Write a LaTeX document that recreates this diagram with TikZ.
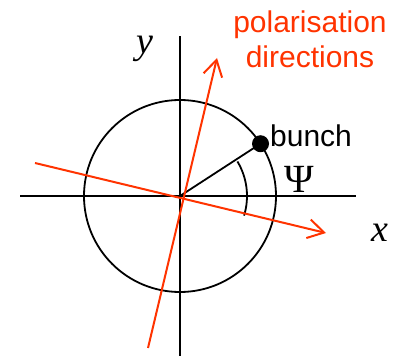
\documentclass[tikz,border=0pt]{standalone}
\usepackage{fontspec}
\setmainfont{Liberation Serif}
\newfontfamily\arialfont{Liberation Sans}
\usetikzlibrary{arrows.meta}
\definecolor{polred}{RGB}{255,51,0}
\begin{document}
\begin{tikzpicture}[x=1pt,y=1pt,
  axisline/.style={line width=2pt,black},
  thinblack/.style={line width=1.8pt,black},
  polline/.style={line width=2pt,polred,-{Straight Barb[length=16pt,width=19pt,line width=2pt]}},
  sanslabel/.style={font=\arialfont\fontsize{30}{36}\selectfont,inner sep=0pt},
  axlabel/.style={font=\fontsize{38}{44}\selectfont\itshape,inner sep=0pt},
  psilabel/.style={font=\fontsize{40}{46}\selectfont,inner sep=0pt}]
\useasboundingbox (0,0) rectangle (399,356);
\coordinate (O) at (180,160);
\coordinate (xl) at (20,160);
\coordinate (xr) at (356,160);
\coordinate (yb) at (180,0);
\coordinate (yt) at (180,320);
\coordinate (r1s) at (148,8);
\coordinate (r1e) at (217,298);
\coordinate (r2s) at (35,193);
\coordinate (r2e) at (326,123);
% axes
\draw[axisline] (xl) -- (xr);
\draw[axisline] (yb) -- (yt);
% circle
\draw[thinblack] (O) circle[radius=96pt];
% bunch
\node[circle,fill=black,inner sep=0pt,minimum size=17pt] (bunch) at ([shift={(33:96pt)}]O) {};
\draw[thinblack] (O) -- (bunch.center);
\draw[thinblack] (O) ++(31:67pt) arc[start angle=31,end angle=-17,radius=67pt];
% polarisation directions
\draw[polline] (r1s) -- (r1e);
\draw[polline] (r2s) -- (r2e);
% labels
\node[sanslabel,text=polred,anchor=base] (pol1) at (310,323) {polarisation};
\node[sanslabel,text=polred,anchor=base] (pol2) at (310,288) {directions};
\node[sanslabel,anchor=base west] (bunchlbl) at (270,209) {bunch};
\node[psilabel,anchor=base] (psi) at (299,163) {Ψ};
\node[axlabel,anchor=base] (xlbl) at (380,114) {x};
\node[axlabel,anchor=base] (ylbl) at (145,302) {y};
\end{tikzpicture}
\end{document}
